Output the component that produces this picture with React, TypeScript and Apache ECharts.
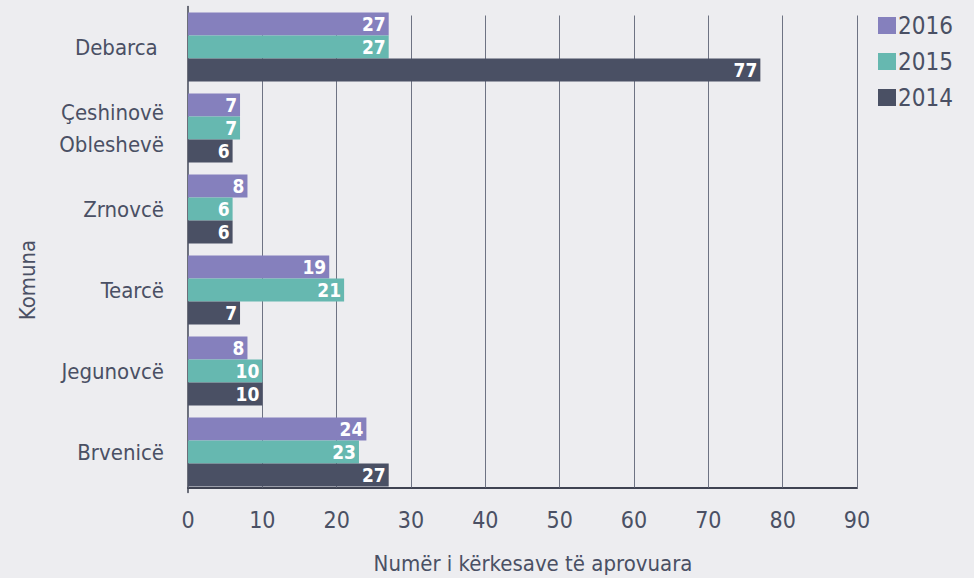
import React, { useEffect, useRef } from "react";
import * as echarts from "echarts";

const categories = ["Debarca ", "Çeshinovë\nObleshevë", "Zrnovcë", "Tearcë", "Jegunovcë", "Brvenicë"];
const seriesNames = ["2016", "2015", "2014"];
const values2016 = [27, 7, 8, 19, 8, 24];
const values2015 = [27, 7, 6, 21, 10, 23];
const values2014 = [77, 6, 6, 7, 10, 27];
const xTicks = [0, 10, 20, 30, 40, 50, 60, 70, 80, 90];
const colors = ["#8580bd", "#66b8b0", "#4a5064"];

const FONT = "'DejaVu Sans Condensed', 'Liberation Sans Narrow', sans-serif";
const TEXT = "#4a5064";

export default function App() {
  const ref = useRef<HTMLDivElement>(null);
  useEffect(() => {
    if (!ref.current) return;
    const chart = echarts.init(ref.current, null, { renderer: "svg" });
    const data = [values2016, values2015, values2014];
    chart.setOption({
      animation: false,
      backgroundColor: "#ededf0",
      textStyle: { fontFamily: FONT },
      grid: { left: 188, right: 117, top: 6.5, height: 486 },
      legend: {
        orient: "vertical",
        left: 873,
        top: 7,
        itemWidth: 18,
        itemHeight: 17,
        itemGap: 9,
        icon: "rect",
        data: seriesNames,
        textStyle: { fontFamily: FONT, fontSize: 24, lineHeight: 27, color: TEXT, padding: [0, 0, 0, -3] },
      },
      xAxis: {
        type: "value",
        min: xTicks[0],
        max: xTicks[xTicks.length - 1],
        interval: 10,
        offset: -5,
        axisLine: { show: true, lineStyle: { color: "#3f4352", width: 2 } },
        axisTick: { show: true, inside: true, length: 472, lineStyle: { color: "#6e7383", width: 1 } },
        splitLine: { show: false },
        axisLabel: { fontFamily: FONT, fontSize: 23, color: TEXT, margin: 21 },
      },
      yAxis: {
        type: "category",
        inverse: true,
        data: categories,
        axisLine: { show: true, lineStyle: { color: "#3f4352", width: 1.5 } },
        axisTick: { show: false },
        axisLabel: { fontFamily: FONT, fontSize: 22, color: TEXT, margin: 24, lineHeight: 32, align: "right" },
      },
      graphic: [
        {
          type: "text",
          x: 27,
          y: 280,
          rotation: Math.PI / 2,
          style: { text: "Komuna", font: `22px ${FONT}`, fill: TEXT, align: "center", verticalAlign: "middle" },
        },
        {
          type: "text",
          x: 533,
          y: 563,
          style: { text: "Numër i kërkesave të aprovuara", font: `22px ${FONT}`, fill: TEXT, align: "center", verticalAlign: "middle" },
        },
      ],
      series: seriesNames.map((name, i) => ({
        name,
        type: "bar",
        data: data[i],
        barWidth: 23,
        barGap: "0%",
        itemStyle: { color: colors[i] },
        label: {
          show: true,
          position: "insideRight",
          distance: 3,
          color: "#ffffff",
          fontFamily: FONT,
          fontWeight: "bold",
          fontSize: 19,
          lineHeight: 20,
        },
      })),
    });
    return () => chart.dispose();
  }, []);
  return <div ref={ref} style={{ position: "absolute", left: 0, top: 0, width: 974, height: 578 }} />;
}
